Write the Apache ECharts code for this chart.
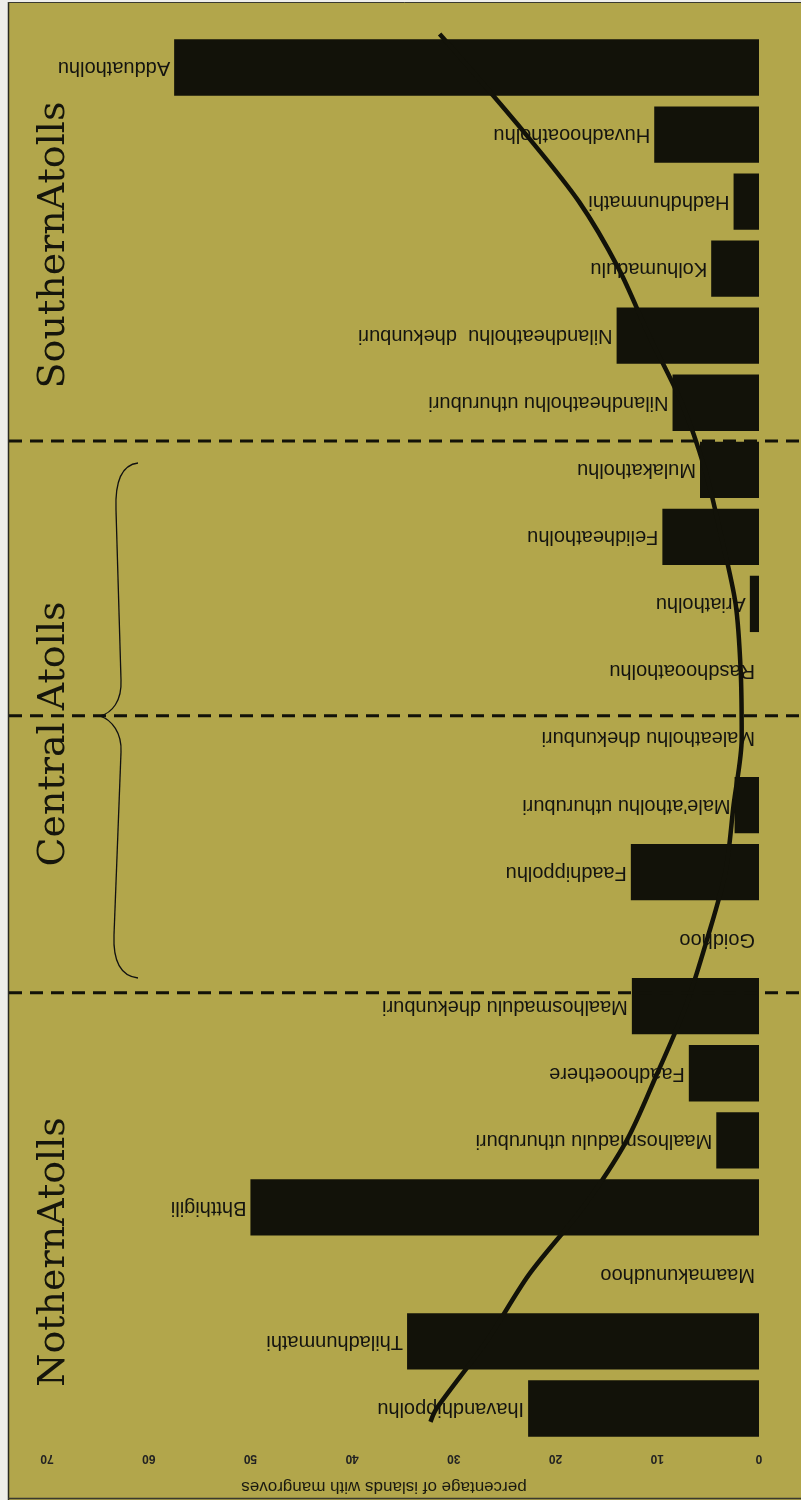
<!DOCTYPE html>
<html>
<head>
<meta charset="utf-8">
<script src="https://cdn.jsdelivr.net/npm/echarts@6/dist/echarts.min.js"></script>
<style>
html,body{margin:0;padding:0;background:#ecece4;}
#chart{position:absolute;left:0;top:0;width:801px;height:1500px;}
</style>
</head>
<body>
<div id="chart"></div>
<script>
// categories, top to bottom (south -> north)
const atolls = [
  "Adduatholhu", "Huvadhooatholhu", "Hadhdhunmathi", "Kolhumadulu",
  "Nilandheatholhu  dhekunburi", "Nilandheatholhu uthuruburi",
  "Mulakatholhu", "Felidheatholhu", "Ariatholhu", "Rasdhooatholhu",
  "Maleatholhu dhekunburi", "Male'atholhu uthuruburi", "Faadhippolhu",
  "Goidhoo", "Maalhosmadulu dhekunburi", "Faadhooethere",
  "Maalhosmadulu uthuruburi", "Bhtthigili", "Maamakunudhoo",
  "Thiladhunmathi", "Ihavandhippolhu"
];
// percentage of islands with mangroves
const mangrovePct = [57.5, 10.3, 2.5, 4.7, 14.0, 8.5, 5.8, 9.5, 0.9, 0, 0, 2.4, 12.6, 0, 12.5, 6.9, 4.2, 50.0, 0, 34.6, 22.7];
// hand-drawn trend curve: position along category axis (index units) and value
const trendPos = [0.0, 0.5, 1.5, 2.5, 3.5, 4.5, 5.5, 6.5, 7.5, 8.5, 9.5, 10.5, 11.5, 12.5, 13.5, 14.5, 15.5, 16.5, 17.5, 18.5, 19.5, 20.5, 20.7];
const trendVal = [31.4, 28.5, 22.9, 17.7, 13.8, 10.8, 7.6, 5.3, 3.7, 2.3, 1.8, 1.7, 2.5, 3.3, 5.1, 7.2, 10.0, 13.0, 17.3, 22.6, 26.8, 31.7, 32.3];
// region separators (index units) and region names
const separatorPos = [6.07, 10.17, 14.3];
const regionNames = ["SouthernAtolls", "Central Atolls", "NothernAtolls"];
const xTicks = [0, 10, 20, 30, 40, 50, 60, 70];
const axisTitle = "percentage of islands with mangroves";

const BG = '#b2a64b';
const INK = '#121209';

const chart = echarts.init(document.getElementById('chart'), null, {renderer: 'canvas'});

const option = {
  backgroundColor: BG,
  animation: false,
  grid: {left: 47, right: 42, top: 34, bottom: 53, containLabel: false},
  xAxis: {
    type: 'value', inverse: true, min: xTicks[0], max: xTicks[xTicks.length - 1], interval: 10,
    position: 'bottom',
    axisLine: {show: false}, axisTick: {show: false}, splitLine: {show: false},
    axisLabel: {rotate: 180, margin: 10, fontSize: 12, fontFamily: 'Liberation Sans, Arial', color: '#222', fontWeight: 'bold'},
    name: axisTitle, nameLocation: 'middle', nameGap: 36, nameRotate: 180,
    nameTextStyle: {fontSize: 17, fontFamily: 'Liberation Sans, Arial', color: '#1a1a10', padding: [0, 0, 0, 38]}
  },
  yAxis: [
    {type: 'category', data: atolls, inverse: true, show: false},
    {type: 'value', min: 0, max: atolls.length, inverse: true, show: false}
  ],
  series: [
    {
      type: 'bar', yAxisIndex: 0, data: mangrovePct, barWidth: '84%',
      itemStyle: {color: INK},
      label: {
        show: true, formatter: '{b}', position: 'left', rotate: 180, align: 'left',
        verticalAlign: 'middle', distance: 4, fontSize: 20,
        fontFamily: 'Liberation Sans, Arial', color: '#141410'
      },
      z: 2
    },
    {
      type: 'line', yAxisIndex: 1, smooth: 0.3, showSymbol: false, symbol: 'none',
      data: trendPos.map((p, i) => [trendVal[i], p]),
      lineStyle: {color: INK, width: 4.5},
      z: 5
    }
  ]
};
chart.setOption(option);

// decorations: page edge, separators, brace, region names
const ys = separatorPos.map(v => chart.convertToPixel({yAxisIndex: 1}, v));
const g = [];
g.push({type: 'rect', shape: {x: 0, y: 0, width: 8, height: 1500}, style: {fill: '#eeeeea'}, z: 10});
g.push({type: 'rect', shape: {x: 0, y: 0, width: 801, height: 2}, style: {fill: '#eeeeea'}, z: 10});
g.push({type: 'line', shape: {x1: 8.5, y1: 2, x2: 8.5, y2: 1500}, style: {stroke: '#2a2a20', lineWidth: 1.5}, z: 11});
g.push({type: 'line', shape: {x1: 8, y1: 2.5, x2: 801, y2: 2.5}, style: {stroke: '#3a3a30', lineWidth: 1}, z: 11});
g.push({type: 'line', shape: {x1: 8, y1: 1498.5, x2: 801, y2: 1498.5}, style: {stroke: '#3a3a30', lineWidth: 1.5}, z: 11});
ys.forEach(y => g.push({type: 'line', shape: {x1: 9, y1: y, x2: 801, y2: y},
  style: {stroke: INK, lineWidth: 3, lineDash: [13, 8]}, z: 6}));
// curly brace made of bezier segments and lines
const braceStyle = {stroke: '#111', lineWidth: 1.3, fill: null};
const braceParts = [
  {type: 'bezierCurve', shape: {x1: 138, y1: 463, cpx1: 121, cpy1: 465, cpx2: 115, cpy2: 484, x2: 116, y2: 510}},
  {type: 'line', shape: {x1: 116, y1: 510, x2: 121, y2: 680}},
  {type: 'bezierCurve', shape: {x1: 121, y1: 680, cpx1: 122, cpy1: 701, cpx2: 112, cpy2: 713, x2: 100, y2: 716}},
  {type: 'bezierCurve', shape: {x1: 100, y1: 716, cpx1: 112, cpy1: 720, cpx2: 122, cpy2: 733, x2: 121, y2: 752}},
  {type: 'line', shape: {x1: 121, y1: 752, x2: 114, y2: 935}},
  {type: 'bezierCurve', shape: {x1: 114, y1: 935, cpx1: 113, cpy1: 960, cpx2: 120, cpy2: 976, x2: 138, y2: 978}}
];
braceParts.forEach(p => { p.style = braceStyle; p.z = 6; g.push(p); });
const regionY = [245, 734, 1252];
regionNames.forEach((t, i) => g.push({type: 'text', x: 54, y: regionY[i], rotation: Math.PI / 2,
  style: {text: t, fill: '#15150c', font: '38px "DejaVu Serif", serif', align: 'center', verticalAlign: 'middle'}, z: 7}));
chart.setOption({graphic: {elements: g}});
</script>
</body>
</html>
